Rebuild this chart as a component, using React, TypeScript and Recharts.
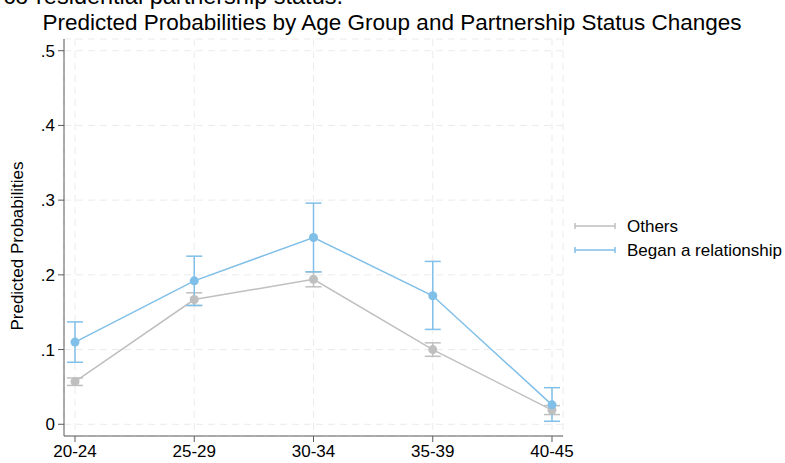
import React from "react";
import {
  LineChart,
  Line,
  XAxis,
  YAxis,
  CartesianGrid,
  ErrorBar,
} from "recharts";

const ageGroups = ["20-24", "25-29", "30-34", "35-39", "40-45"];

const othersProb = [0.057, 0.167, 0.194, 0.1, 0.019];
const othersLow = [0.052, 0.159, 0.184, 0.091, 0.013];
const othersHigh = [0.062, 0.176, 0.204, 0.109, 0.025];

const beganProb = [0.11, 0.192, 0.25, 0.172, 0.026];
const beganLow = [0.083, 0.159, 0.204, 0.127, 0.004];
const beganHigh = [0.137, 0.225, 0.296, 0.218, 0.049];

const yTicks = [0, 0.1, 0.2, 0.3, 0.4, 0.5];

const GRAY = "#bfbfbf";
const BLUE = "#80bfe8";
const AXIS = "#5a5a5a";
const FONT = "Arial, 'Liberation Sans', Helvetica, sans-serif";

const data = ageGroups.map((g, i) => ({
  group: g,
  others: othersProb[i],
  othersErr: [othersProb[i] - othersLow[i], othersHigh[i] - othersProb[i]],
  began: beganProb[i],
  beganErr: [beganProb[i] - beganLow[i], beganHigh[i] - beganProb[i]],
}));

const fmtY = (v: number) => (v === 0 ? "0" : "." + Math.round(v * 10));

function LegendRow({ color, label, y }: { color: string; label: string; y: number }) {
  return (
    <g>
      <line x1={575} x2={615} y1={y} y2={y} stroke={color} strokeWidth={1.5} />
      <line x1={575} x2={575} y1={y - 3} y2={y + 3} stroke={color} strokeWidth={1.5} />
      <line x1={615} x2={615} y1={y - 3} y2={y + 3} stroke={color} strokeWidth={1.5} />
      <text x={627} y={y + 6} fontSize={17} fill="#000" fontFamily={FONT}>
        {label}
      </text>
    </g>
  );
}

export default function App() {
  return (
    <div style={{ position: "absolute", left: 0, top: 0, width: 785, height: 463, background: "#fff" }}>
      <LineChart
        width={785}
        height={463}
        data={data}
        margin={{ top: 39, right: 222, bottom: 0, left: 4 }}
        style={{ fontFamily: FONT }}
      >
        <CartesianGrid stroke="#ebebeb" strokeDasharray="7 5" />
        <XAxis
          dataKey="group"
          padding={{ left: 11, right: 11 }}
          height={27}
          stroke={AXIS}
          tickSize={6}
          tickMargin={3}
          tick={{ fill: "#000", fontSize: 17 }}
          interval={0}
        />
        <YAxis
          type="number"
          domain={[-0.0157, 0.5157]}
          ticks={yTicks}
          allowDataOverflow
          width={60}
          stroke={AXIS}
          tickSize={6}
          tickMargin={3}
          tickFormatter={fmtY}
          tick={{ fill: "#000", fontSize: 17 }}
        />
        <Line
          dataKey="others"
          stroke={GRAY}
          strokeWidth={1.5}
          dot={{ r: 4.5, fill: GRAY, stroke: GRAY, strokeWidth: 0 }}
          isAnimationActive={false}
        >
          <ErrorBar dataKey="othersErr" width={8} stroke={GRAY} strokeWidth={1.5} direction="y" />
        </Line>
        <Line
          dataKey="began"
          stroke={BLUE}
          strokeWidth={1.5}
          dot={{ r: 4.5, fill: BLUE, stroke: BLUE, strokeWidth: 0 }}
          isAnimationActive={false}
        >
          <ErrorBar dataKey="beganErr" width={8} stroke={BLUE} strokeWidth={1.5} direction="y" />
        </Line>
      </LineChart>
      <svg
        width={785}
        height={463}
        style={{ position: "absolute", left: 0, top: 0, pointerEvents: "none" }}
      >
        <text x={343} y={4} textAnchor="end" fontSize={23.5} fontFamily={FONT} fill="#000">
          co-residential partnership status.
        </text>
        <text x={392} y={30} textAnchor="middle" fontSize={22.5} fontFamily={FONT} fill="#000">
          Predicted Probabilities by Age Group and Partnership Status Changes
        </text>
        <text
          x={23}
          y={246}
          textAnchor="middle"
          fontSize={17}
          fontFamily={FONT}
          fill="#000"
          transform="rotate(-90 23 246)"
        >
          Predicted Probabilities
        </text>
        <LegendRow color={GRAY} label="Others" y={226} />
        <LegendRow color={BLUE} label="Began a relationship" y={250} />
      </svg>
    </div>
  );
}
